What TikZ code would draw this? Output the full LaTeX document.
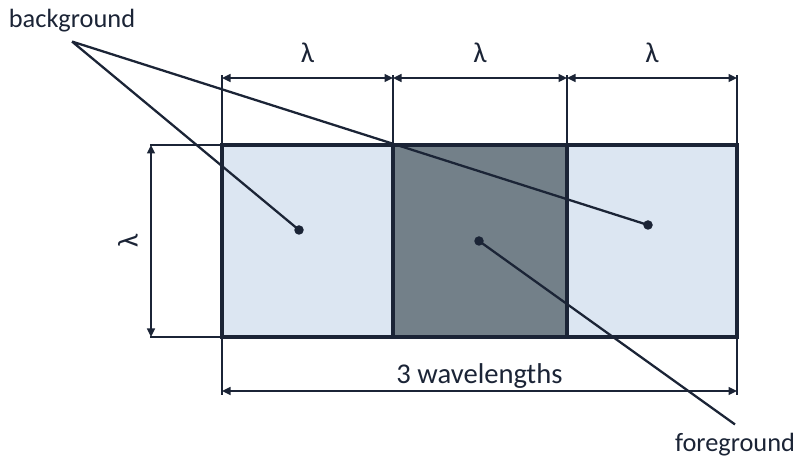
\documentclass[tikz,border=0pt]{standalone}
\usepackage{fontspec}
\setmainfont{Carlito}
\usetikzlibrary{arrows.meta,positioning,calc}
\definecolor{ink}{HTML}{1B2436}
\definecolor{pale}{HTML}{DCE6F2}
\definecolor{slate}{HTML}{738089}

\begin{document}
\begin{tikzpicture}[x=1cm,y=1cm,font=\fontsize{15}{18}\selectfont,
      cell/.style={draw=ink,line width=2.4pt,minimum height=3.84cm,
                   inner sep=0pt,outer sep=0pt,anchor=south west},
      ext/.style={ink,line width=0.8pt},
      dim/.style={ink,line width=0.9pt,
                  {Triangle[length=1.7mm,width=1.6mm]}-{Triangle[length=1.7mm,width=1.6mm]}},
      lead/.style={ink,line width=1.3pt},
      blob/.style={circle,fill=ink,inner sep=0pt,minimum size=1.9mm},
      tag/.style={text=ink,inner sep=5pt},
      big/.style={text=ink,font=\fontsize{16.3}{19}\selectfont}]
    \useasboundingbox (0,0) rectangle (15.9,9.28);
    % the three cells
    \node[cell,fill=pale,minimum width=3.42cm] (c1) at (4.44,2.54) {};
    \node[cell,fill=slate,minimum width=3.48cm] (c2) at (c1.south east) {};
    \node[cell,fill=pale,minimum width=3.40cm] (c3) at (c2.south east) {};
    \draw[ink,line width=2.4pt] (c1.south west) rectangle (c3.north east);
    % extension lines
    \foreach \p in {c1.north west,c1.north east,c2.north east,c3.north east}{
      \draw[ext] (\p) -- ++(0,1.4);}
    \draw[ext] (c1.north west) -- ++(-1.44,0);
    \draw[ext] (c1.south west) -- ++(-1.44,0);
    \draw[ext] (c1.south west) -- ++(0,-1.16);
    \draw[ext] (c3.south east) -- ++(0,-1.16);
    % dimensions
    \foreach \c in {c1,c2,c3}{
      \draw[dim] ($(\c.north west)+(0,1.34)$) -- ($(\c.north east)+(0,1.34)$)
        node[midway,above=1.8mm,big] {λ};}
    \draw[dim] ($(c1.north west)+(-1.42,0)$) -- ($(c1.south west)+(-1.42,0)$);
    \node[rotate=90,big] (side) at ($(c1.west)+(-1.88,0)$) {λ};
    \draw[dim] ($(c1.south west)+(0,-1.08)$) -- ($(c3.south east)+(0,-1.08)$)
      node[midway,anchor=base,yshift=1.5mm,big] {3 wavelengths};
    % leaders
    \node[blob] (d1) at (5.98,4.68) {};
    \node[blob] (d2) at (9.58,4.46) {};
    \node[blob] (d3) at (12.96,4.78) {};
    \node[tag] (bg) at (1.44,8.86) {background};
    \node[tag] (fg) at (14.7,0.38) {foreground};
    \draw[lead] (bg.south) -- (d1.center) (bg.south) -- (d3.center);
    \draw[lead] (d2.center) -- (fg.north);
\end{tikzpicture}
\end{document}
